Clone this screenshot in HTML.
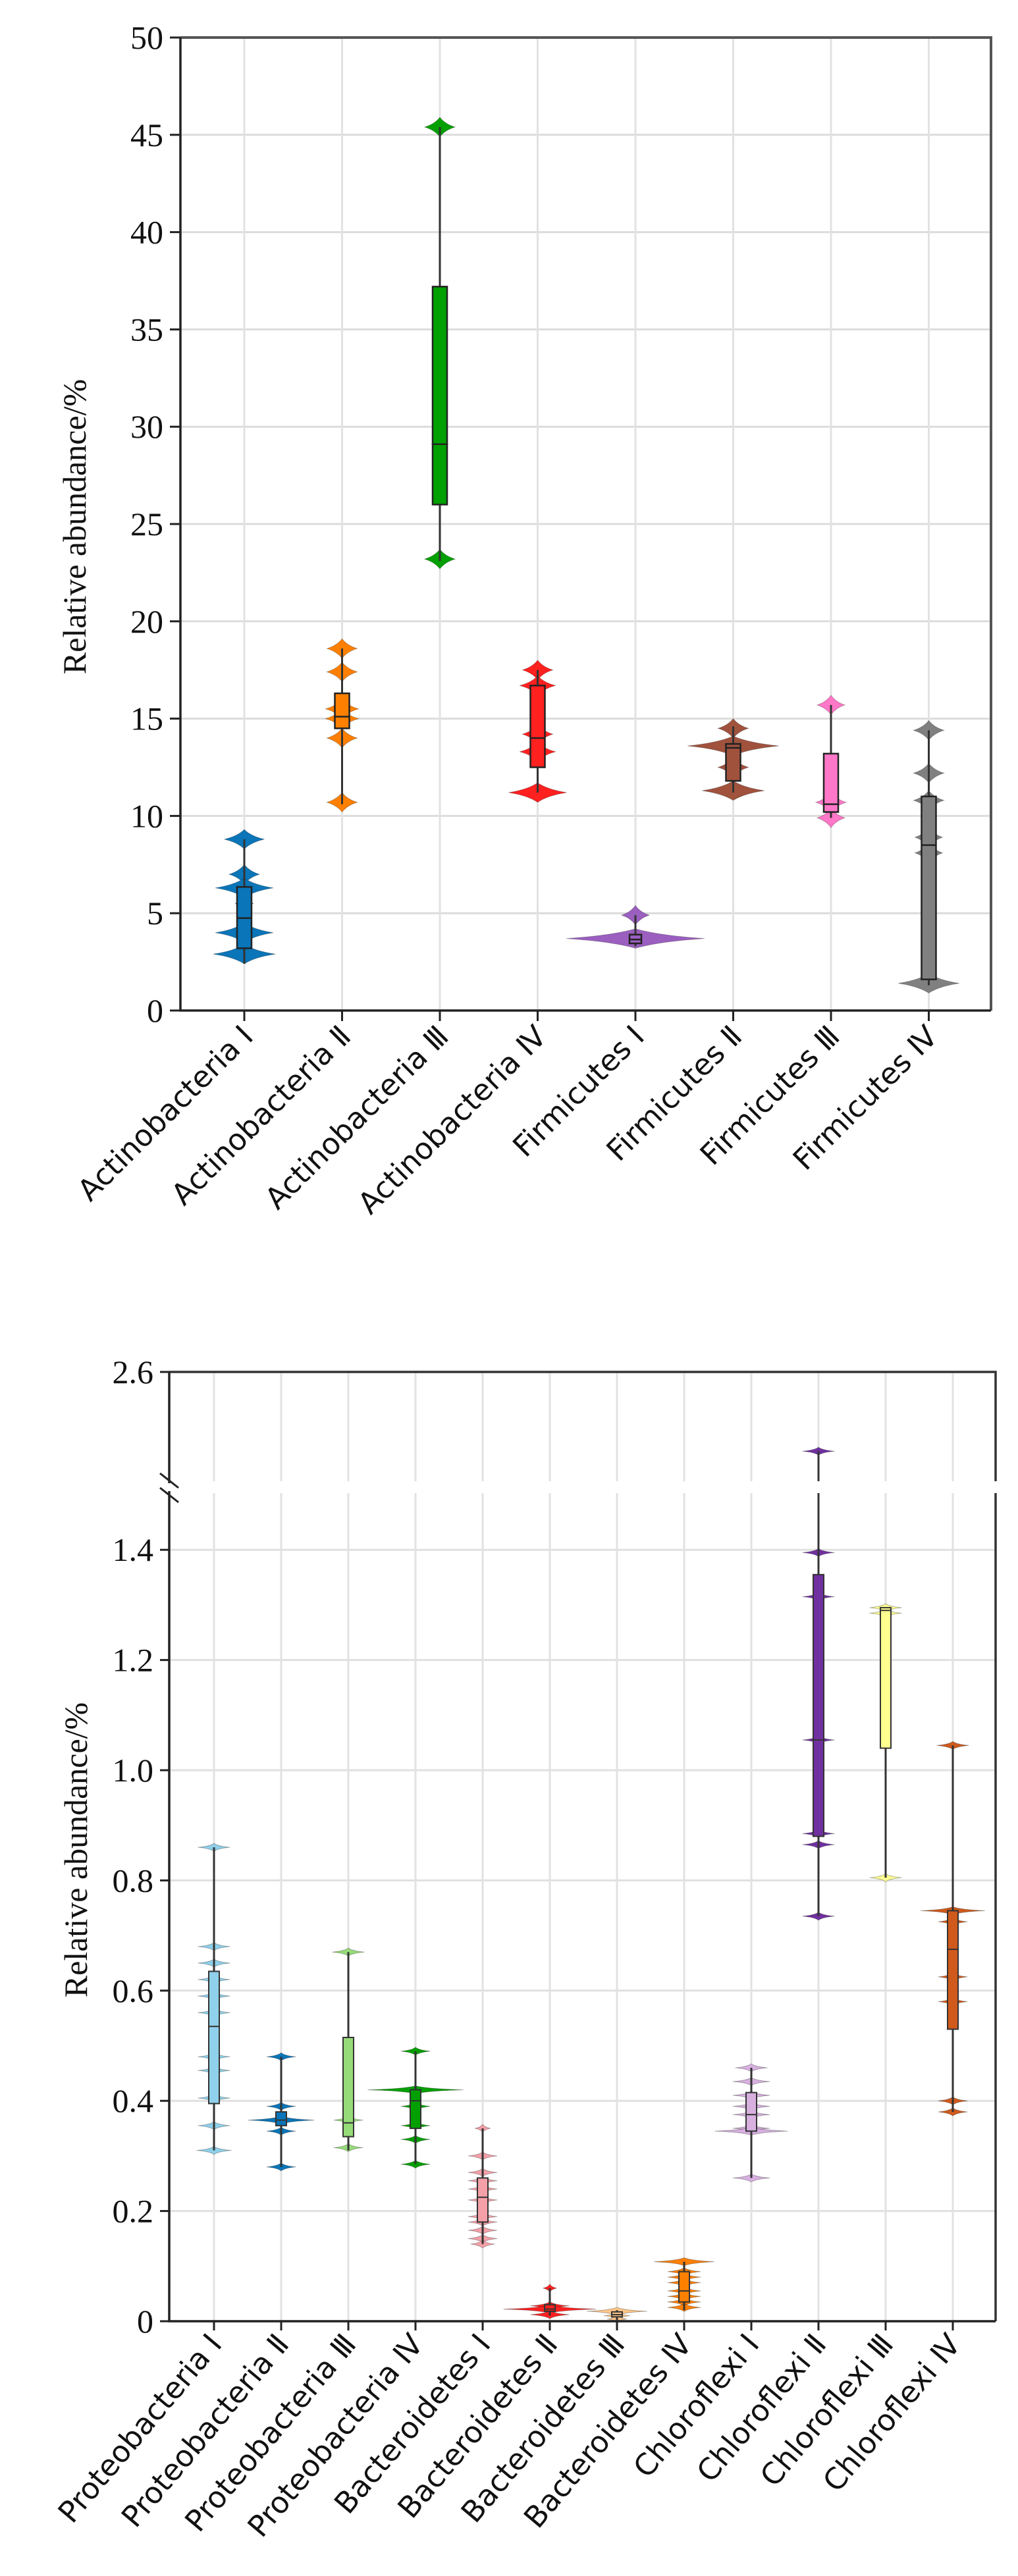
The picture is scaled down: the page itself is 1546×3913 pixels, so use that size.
<!DOCTYPE html>
<html><head><meta charset="utf-8"><style>
html,body{margin:0;padding:0;background:#fff}
svg{display:block}
.tick{font-family:"Liberation Serif",serif;font-size:50px;fill:#111}
.ylab{font-family:"Liberation Serif",serif;font-size:50px;fill:#111}
.xlab{font-family:"DejaVu Sans","Liberation Sans",sans-serif;font-size:45px;fill:#111}
.xlabi{font-family:"DejaVu Sans","Liberation Sans",sans-serif;font-size:45px;fill:#111}
</style></head><body>
<svg id="chart" width="1546" height="3913" viewBox="0 0 1546 3913" xmlns="http://www.w3.org/2000/svg">
<g id="top"></g>
<g id="bot"></g>
</svg>
<script>
// ---------- TOP CHART DATA ----------
const topCats = ["Actinobacteria Ⅰ","Actinobacteria Ⅱ","Actinobacteria Ⅲ","Actinobacteria Ⅳ","Firmicutes Ⅰ","Firmicutes Ⅱ","Firmicutes Ⅲ","Firmicutes Ⅳ"];
const topColors = ["#0a75b8","#ff8000","#00a000","#ff2020","#9b5fc0","#a0523d","#ff77c8","#808080"];
const topPts = [[8.8,7.0,6.3,5.5,4.0,2.9],[18.6,17.4,15.5,15.0,14.0,10.7],[45.4,29.1,23.2],[17.5,16.7,14.2,13.3,11.2],[4.9,3.7],[14.5,13.6,12.5,11.3],[15.7,10.7,9.9],[14.4,12.2,10.8,8.9,8.1,1.4]];
const topWts = [[0.29,0.22,0.42,0.13,0.42,0.45],[0.22,0.22,0.24,0.24,0.22,0.22],[0.22,0.12,0.22],[0.22,0.26,0.22,0.26,0.42],[0.2,1.0],[0.22,0.66,0.22,0.45],[0.2,0.22,0.2],[0.22,0.22,0.22,0.2,0.2,0.44]];
const topMin = [2.4,10.6,23.1,11.2,3.3,11.2,9.9,1.3];
const topQ1 = [3.2,14.5,26.0,12.5,3.45,11.8,10.2,1.6];
const topMed = [4.75,15.1,29.1,14.0,3.65,13.5,10.6,8.5];
const topQ3 = [6.35,16.3,37.2,16.7,3.9,13.7,13.2,11.0];
const topMax = [8.8,18.6,45.4,17.5,4.9,14.6,15.7,14.4];
const topTicks = [0,5,10,15,20,25,30,35,40,45,50];

// ---------- BOTTOM CHART DATA ----------
const botCats = ["Proteobacteria Ⅰ","Proteobacteria Ⅱ","Proteobacteria Ⅲ","Proteobacteria Ⅳ","Bacteroidetes Ⅰ","Bacteroidetes Ⅱ","Bacteroidetes Ⅲ","Bacteroidetes Ⅳ","Chloroflexi Ⅰ","Chloroflexi Ⅱ","Chloroflexi Ⅲ","Chloroflexi Ⅳ"];
const botColors = ["#8fd0ea","#0a75b8","#96dc78","#00a000","#f5a0a8","#ff2020","#ffc88a","#ff8000","#d8b0e0","#7030a0","#ffff90","#d05a1c"];
const botPts = [[0.86,0.68,0.65,0.62,0.59,0.56,0.48,0.455,0.405,0.355,0.31],[0.48,0.39,0.365,0.345,0.28],[0.67,0.365,0.315],[0.49,0.42,0.39,0.355,0.33,0.285],[0.35,0.30,0.27,0.255,0.24,0.22,0.19,0.18,0.165,0.15,0.14],[0.06,0.028,0.022,0.012],[0.018,0.01,0.004],[0.108,0.09,0.08,0.07,0.055,0.045,0.035,0.025],[0.46,0.435,0.41,0.39,0.375,0.35,0.345,0.26],[2.165,1.395,1.315,1.055,0.885,0.865,0.735],[1.295,1.285,0.805],[1.045,0.745,0.725,0.625,0.58,0.40,0.38]];
const botWts = [[0.33,0.33,0.33,0.33,0.33,0.33,0.33,0.33,0.33,0.33,0.36],[0.3,0.3,0.68,0.3,0.3],[0.33,0.3,0.3],[0.3,0.98,0.3,0.3,0.3,0.3],[0.16,0.3,0.3,0.3,0.3,0.3,0.3,0.3,0.3,0.3,0.25],[0.14,0.4,0.95,0.4],[0.62,0.27,0.2],[0.62,0.34,0.34,0.34,0.34,0.34,0.34,0.34],[0.33,0.38,0.38,0.38,0.38,0.38,0.75,0.38],[0.33,0.33,0.33,0.33,0.33,0.33,0.33],[0.33,0.33,0.33],[0.33,0.66,0.3,0.3,0.3,0.3,0.3]];
const botMin = [0.31,0.28,0.31,0.285,0.14,0.01,0.002,0.02,0.26,0.735,0.805,0.38];
const botQ1 = [0.395,0.355,0.335,0.35,0.18,0.018,0.008,0.035,0.345,0.88,1.04,0.53];
const botMed = [0.535,0.365,0.36,0.40,0.225,0.022,0.012,0.055,0.375,1.055,1.29,0.675];
const botQ3 = [0.635,0.38,0.515,0.42,0.26,0.03,0.017,0.09,0.415,1.355,1.295,0.745];
const botMax = [0.86,0.48,0.67,0.49,0.35,0.06,0.02,0.108,0.46,2.165,1.295,1.045];
const botTicks = [0,0.2,0.4,0.6,0.8,1.0,1.2,1.4];
const botTickLabels = ["0","0.2","0.4","0.6","0.8","1.0","1.2","1.4"];

const NS="http://www.w3.org/2000/svg";
function mk(parent,tag,attrs){const e=document.createElementNS(NS,tag);for(const k in attrs)e.setAttribute(k,attrs[k]);parent.appendChild(e);return e;}

// ---------- TOP ----------
(function(){
  const g=document.getElementById('top');
  const L=274,R=1505,T=57,B=1535;
  const y=v=>B-(v/50)*(B-T);
  const x=i=>371+i*148.5;
  const MAXW=105,H=0.5;
  topTicks.forEach(t=>{ if(t>0&&t<50){const l=mk(g,'line',{x1:L,x2:R,y1:y(t),y2:y(t),stroke:'#dcdcdc','stroke-width':3});
    
    }});
  topCats.forEach((c,i)=>{const l=mk(g,'line',{x1:x(i),x2:x(i),y1:T,y2:B,stroke:'#e2e2e2','stroke-width':3});
    
    });
  topCats.forEach((c,i)=>{
    const cg=mk(g,'g',{});
    
    
    topPts[i].forEach((v,j)=>{
      const w=topWts[i][j]*MAXW, cx=x(i);
      const p=mk(cg,'path',{d:`M${cx},${y(v+H)} Q${cx+w*0.35},${y(v+H*0.3)} ${cx+w},${y(v)} Q${cx+w*0.35},${y(v-H*0.3)} ${cx},${y(v-H)} Q${cx-w*0.35},${y(v-H*0.3)} ${cx-w},${y(v)} Q${cx-w*0.35},${y(v+H*0.3)} ${cx},${y(v+H)}Z`,fill:topColors[i],stroke:'rgba(0,0,0,0.25)','stroke-width':1});
      
      
    });
    const wl=mk(cg,'line',{x1:x(i),x2:x(i),y1:y(topMax[i]),y2:y(topMin[i]),stroke:'#333','stroke-width':3});
    
    
    const bw=i===4?18:22;
    const bx=mk(cg,'rect',{x:x(i)-bw/2,y:y(topQ3[i]),width:bw,height:y(topQ1[i])-y(topQ3[i]),fill:topColors[i],stroke:'#222','stroke-width':2.5});
    
    
    const md=mk(cg,'line',{x1:x(i)-bw/2,x2:x(i)+bw/2,y1:y(topMed[i]),y2:y(topMed[i]),stroke:'#222','stroke-width':2.5});
    
    
  });
  const f1=mk(g,'path',{d:`M${L},${T} H${R} V${B}`,fill:'none',stroke:'#555','stroke-width':4});
  
  
  const ax=mk(g,'path',{d:`M${L},${T} V${B} H${R}`,fill:'none',stroke:'#222','stroke-width':3.5});
  
  
  topTicks.forEach(t=>{
    const tk=mk(g,'line',{x1:L-16,x2:L,y1:y(t),y2:y(t),stroke:'#222','stroke-width':3});
    
    
    const tx=mk(g,'text',{x:L-26,y:y(t)+17,'text-anchor':'end',class:'tick'});tx.textContent=String(t);
    
    
  });
  topCats.forEach((c,i)=>{
    const tk=mk(g,'line',{x1:x(i),x2:x(i),y1:B,y2:B+16,stroke:'#222','stroke-width':3});
    
    
    const tx=mk(g,'text',{x:0,y:0,'text-anchor':'end',class:'xlab',transform:`translate(${x(i)+16},${B+42}) rotate(-45)`});tx.textContent=c;
    
    
  });
  const yl=mk(g,'text',{x:0,y:0,'text-anchor':'middle',class:'ylab',transform:`translate(130,800) rotate(-90)`});yl.textContent='Relative abundance/%';
  
  
})();

// ---------- BOTTOM ----------
(function(){
  const g=document.getElementById('bot');
  const L=257,R=1512,T=2084,B=3526,GT=2250,GB=2268;
  const LOWMAX=1.5, UPMIN=2.0, UPMAX=2.6;
  const y=v=> v<=LOWMAX+0.01 ? B-v*837 : GT-(v-UPMIN)/(UPMAX-UPMIN)*(GT-T);
  const x=i=>325+i*102;
  const MAXW=74;
  botTicks.forEach(t=>{ if(t>0){const l=mk(g,'line',{x1:L,x2:R,y1:y(t),y2:y(t),stroke:'#e0e0e0','stroke-width':3});
    
    }});
  botCats.forEach((c,i)=>{
    [[T,GT],[GB,B]].forEach(s=>{const l=mk(g,'line',{x1:x(i),x2:x(i),y1:s[0],y2:s[1],stroke:'#e2e2e2','stroke-width':3});
      
      });
  });
  botCats.forEach((c,i)=>{
    const cg=mk(g,'g',{});
    
    
    botPts[i].forEach((v,j)=>{
      const w=botWts[i][j]*MAXW, cx=x(i), yc=y(v), hh=6;
      const p=mk(cg,'path',{d:`M${cx},${yc-hh} Q${cx+w*0.25},${yc-1.5} ${cx+w},${yc} Q${cx+w*0.25},${yc+1.5} ${cx},${yc+hh} Q${cx-w*0.25},${yc+1.5} ${cx-w},${yc} Q${cx-w*0.25},${yc-1.5} ${cx},${yc-hh}Z`,fill:botColors[i],stroke:'rgba(0,0,0,0.3)','stroke-width':1});
      
      
    });
    const segs = botMax[i]>LOWMAX ? [[y(botMax[i]),GT],[GB,y(botMin[i])]] : [[y(botMax[i]),y(botMin[i])]];
    segs.forEach(s=>{const wl=mk(cg,'line',{x1:x(i),x2:x(i),y1:s[0],y2:s[1],stroke:'#333','stroke-width':3});
      
      });
    const bw=16;
    const bx=mk(cg,'rect',{x:x(i)-bw/2,y:y(botQ3[i]),width:bw,height:Math.max(2,y(botQ1[i])-y(botQ3[i])),fill:botColors[i],stroke:'#333','stroke-width':2});
    
    
    const md=mk(cg,'line',{x1:x(i)-bw/2,x2:x(i)+bw/2,y1:y(botMed[i]),y2:y(botMed[i]),stroke:'#333','stroke-width':2});
    
    
  });
  const f1=mk(g,'path',{d:`M${L},${T} H${R} V${GT} M${R},${GB} V${B}`,fill:'none',stroke:'#333','stroke-width':3.5});
  
  
  const ax=mk(g,'path',{d:`M${L},${T} V${B} H${R}`,fill:'none',stroke:'#222','stroke-width':3.5});
  
  
  const br=mk(g,'path',{d:`M${L-14},${GT-12} L${L+14},${GT+10} M${L-14},${GB-8} L${L+14},${GB+14}`,stroke:'#222','stroke-width':3,fill:'none'});
  
  
  const wb=mk(g,'rect',{x:L-2,y:GT+3,width:5,height:GB-GT-6,fill:'#fff'});
  
  
  botTicks.concat([2.6]).forEach((t,k)=>{
    const tk=mk(g,'line',{x1:L-14,x2:L,y1:y(t),y2:y(t),stroke:'#222','stroke-width':3});
    
    
    const tx=mk(g,'text',{x:L-24,y:y(t)+17,'text-anchor':'end',class:'tick'});tx.textContent= k<botTickLabels.length?botTickLabels[k]:'2.6';
    
    
  });
  botCats.forEach((c,i)=>{
    const tk=mk(g,'line',{x1:x(i),x2:x(i),y1:B,y2:B+14,stroke:'#222','stroke-width':3});
    
    
    const tx=mk(g,'text',{x:0,y:0,'text-anchor':'end',class:'xlabi',transform:`translate(${x(i)+14},${B+36}) rotate(-50)`});tx.textContent=c;
    
    
  });
  const yl=mk(g,'text',{x:0,y:0,'text-anchor':'middle',class:'ylab',transform:`translate(132,2810) rotate(-90)`});yl.textContent='Relative abundance/%';
  
  
})();
</script>
</body></html>
